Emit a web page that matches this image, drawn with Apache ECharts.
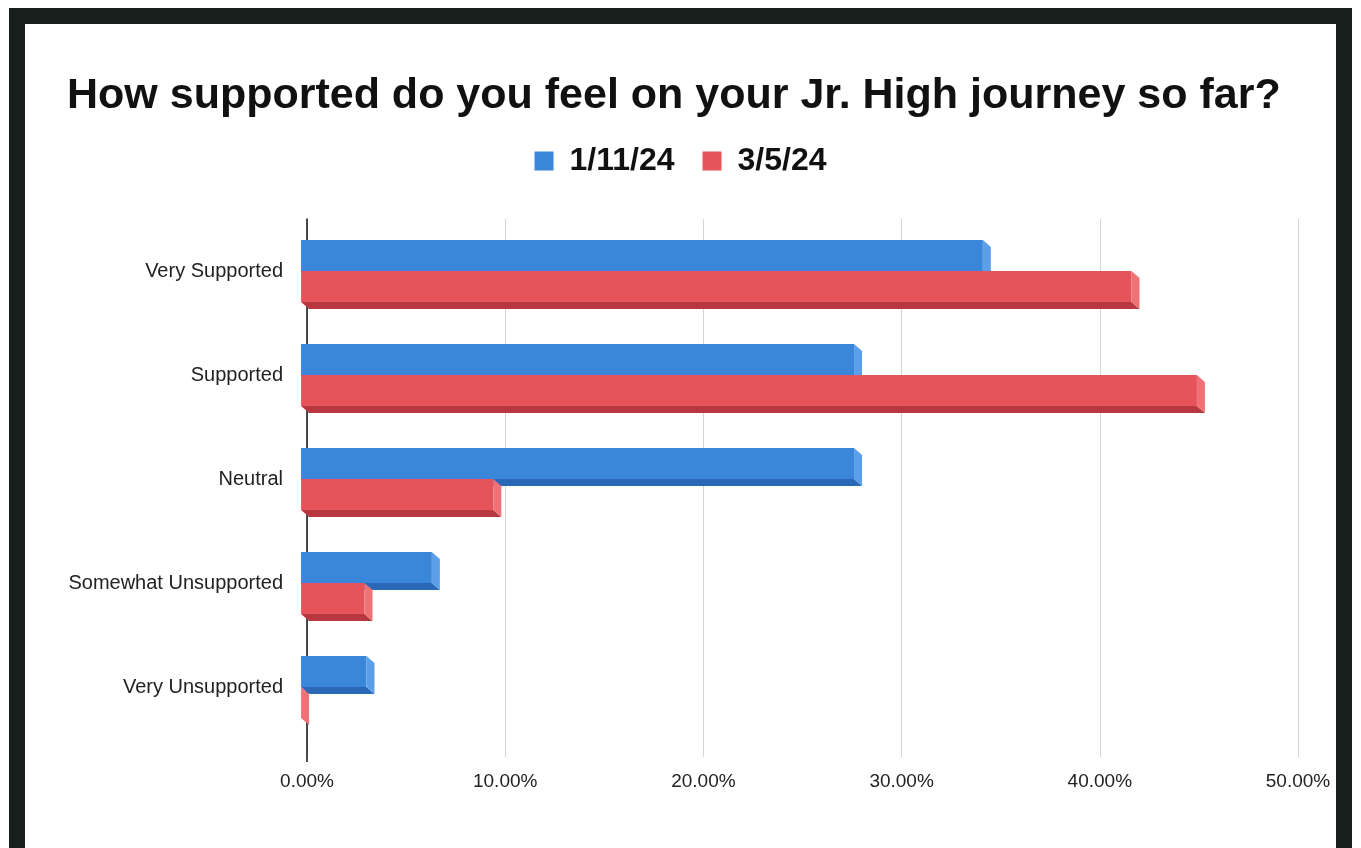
<!DOCTYPE html>
<html>
<head>
<meta charset="utf-8">
<script src="https://cdn.jsdelivr.net/npm/echarts@6/dist/echarts.min.js"></script>
<style>
html,body{margin:0;padding:0;background:#fff;width:1361px;height:848px;overflow:hidden;}
#chart{position:absolute;left:0;top:0;width:1361px;height:848px;}
#frame{position:absolute;left:9px;top:8px;width:1311px;height:830px;border:16px solid #17201c;pointer-events:none;}
</style>
</head>
<body>
<div id="chart"></div>
<div id="frame"></div>
<script>
const titleText = 'How supported do you feel on your Jr. High journey so far?';
const categories = ['Very Supported', 'Supported', 'Neutral', 'Somewhat Unsupported', 'Very Unsupported'];
const seriesNames = ['1/11/24', '3/5/24'];
const values_jan = [34.4, 27.9, 27.9, 6.6, 3.3];
const values_mar = [41.9, 45.2, 9.7, 3.2, 0];
const xTicks = [0, 10, 20, 30, 40, 50];

// face colours: front, bottom, right side
const palettes = [
  {front: '#3a87da', bottom: '#2a68b6', side: '#5c9fe8'},
  {front: '#e4545a', bottom: '#b8383f', side: '#ee7276'}
];
const FACE_H = 31, DEPTH_X = 8, DEPTH_Y = 7;

function makeRender(k) {
  const pal = palettes[k];
  return function (params, api) {
    const v = api.value(0), ci = api.value(1);
    const p0 = api.coord([0, ci]);
    const p1 = api.coord([v, ci]);
    const x0 = p0[0], x1 = p1[0];
    const top = p0[1] - FACE_H + k * FACE_H;
    const bot = top + FACE_H;
    const children = [];
    children.push({type: 'polygon', shape: {points: [[x0, bot], [x1, bot], [x1 + DEPTH_X, bot + DEPTH_Y], [x0 + DEPTH_X, bot + DEPTH_Y]]},
      style: {fill: pal.bottom}});
    if (x1 > x0) children.push({type: 'rect', shape: {x: x0, y: top, width: x1 - x0, height: FACE_H}, style: {fill: pal.front}});
    children.push({type: 'polygon', shape: {points: [[x1, top], [x1 + DEPTH_X, top + DEPTH_Y], [x1 + DEPTH_X, bot + DEPTH_Y], [x1, bot]]},
      style: {fill: pal.side}});
    return {type: 'group', children};
  };
}

const chart = echarts.init(document.getElementById('chart'));
const font = 'Liberation Sans, Arial, sans-serif';
chart.setOption({
  animation: false,
  backgroundColor: 'transparent',
  title: {
    text: titleText, left: 62, top: 70,
    textStyle: {fontFamily: font, fontSize: 43, fontWeight: 'bold', color: '#111'}
  },
  legend: {
    data: seriesNames, top: 140, left: 'center', icon: 'rect',
    itemWidth: 19, itemHeight: 19, itemGap: 28,
    textStyle: {fontFamily: font, fontSize: 32, fontWeight: 'bold', color: '#111', padding: [0, 0, 0, 11]}
  },
  grid: {left: 307, right: 63, top: 219, bottom: 109, containLabel: false},
  xAxis: [{
    type: 'value', min: xTicks[0], max: xTicks[xTicks.length - 1], interval: 10,
    position: 'bottom',
    axisLine: {show: false},
    axisTick: {show: true, length: 18, lineStyle: {color: '#d4d4d4'}},
    splitLine: {show: true, lineStyle: {color: '#d4d4d4', width: 1}},
    axisLabel: {margin: 33, fontFamily: font, fontSize: 19, color: '#222',
      formatter: v => v.toFixed(2) + '%'}
  }, {
    type: 'value', min: 0.3, max: 50.3, show: false
  }, {
    type: 'value', min: xTicks[0], max: xTicks[xTicks.length - 1], position: 'bottom',
    axisLine: {show: false}, splitLine: {show: false}, axisLabel: {show: false},
    axisTick: {show: true, length: 23, customValues: [xTicks[0]], lineStyle: {color: '#111', width: 1.5}}
  }],
  yAxis: {
    type: 'category', data: categories, inverse: true,
    axisLine: {show: true, lineStyle: {color: '#111', width: 1.5}},
    axisTick: {show: false},
    axisLabel: {margin: 24, fontFamily: font, fontSize: 20, color: '#222'}
  },
  series: [{
    name: seriesNames[0], type: 'custom', xAxisIndex: 1, yAxisIndex: 0,
    data: values_jan.map((v, i) => [v, i]),
    encode: {x: 0, y: 1},
    itemStyle: {color: palettes[0].front},
    renderItem: makeRender(0)
  }, {
    name: seriesNames[1], type: 'custom', xAxisIndex: 1, yAxisIndex: 0,
    data: values_mar.map((v, i) => [v, i]),
    encode: {x: 0, y: 1},
    itemStyle: {color: palettes[1].front},
    renderItem: makeRender(1)
  }]
});
</script>
</body>
</html>
